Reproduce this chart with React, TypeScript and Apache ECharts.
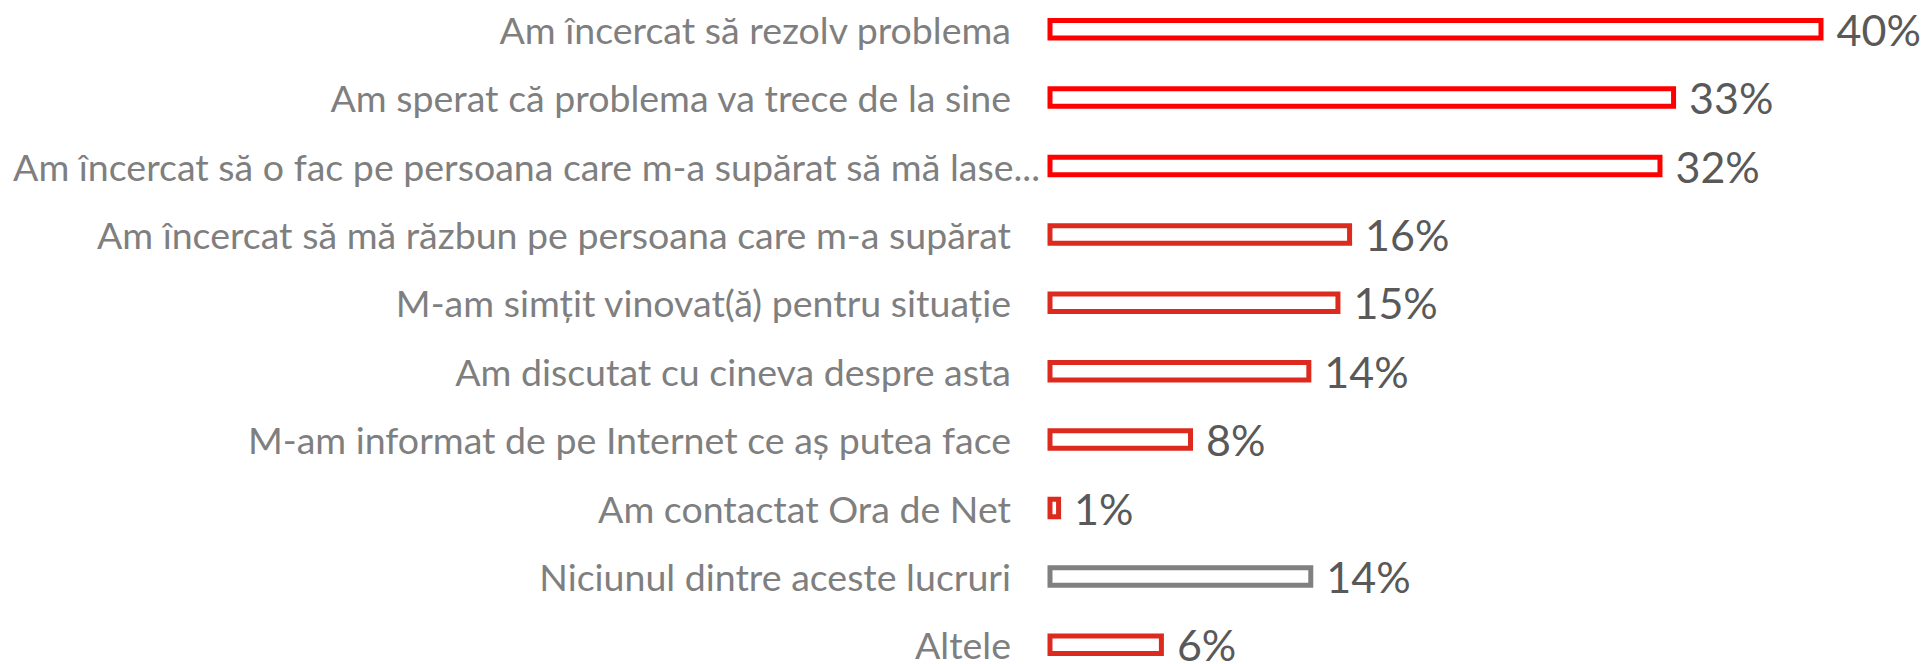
import React, { useEffect, useRef } from "react";
import * as echarts from "echarts";

const categories = [
  "Am încercat să rezolv problema",
  "Am sperat că problema va trece de la sine",
  "Am încercat să o fac pe persoana care m-a supărat să mă lase...",
  "Am încercat să mă răzbun pe persoana care m-a supărat",
  "M-am simțit vinovat(ă) pentru situație",
  "Am discutat cu cineva despre asta",
  "M-am informat de pe Internet ce aș putea face",
  "Am contactat Ora de Net",
  "Niciunul dintre aceste lucruri",
  "Altele",
];
const values = [40.0, 32.4, 31.7, 15.7, 15.1, 13.6, 7.5, 0.7, 13.7, 6.0];
const valueLabels = ["40%", "33%", "32%", "16%", "15%", "14%", "8%", "1%", "14%", "6%"];
const barColors = [
  "#FF0000", "#FF0000", "#FF0000", "#DC2A1F", "#DC2A1F",
  "#DC2A1F", "#DC2A1F", "#DC2A1F", "#808080", "#DC2A1F",
];
// the truncated label sits closer to its bar in the reference
const closeLabelIndex = 2;

export default function App() {
  const ref = useRef<HTMLDivElement>(null);
  useEffect(() => {
    if (!ref.current) return;
    const chart = echarts.init(ref.current, undefined, { renderer: "svg" });
    const labelStyle = {
      color: "#7F7F7F",
      fontFamily: "Lato",
      fontSize: 37.5,
    };
    chart.setOption({
      animation: false,
      backgroundColor: "#ffffff",
      grid: { left: 1047.5, right: 2.5, top: 0, bottom: 0, containLabel: false },
      xAxis: {
        type: "value",
        min: 0,
        max: 45,
        show: false,
      },
      yAxis: [
        {
          type: "category",
          inverse: true,
          data: categories,
          axisLine: { show: false },
          axisTick: { show: false },
          splitLine: { show: false },
          axisLabel: {
            ...labelStyle,
            margin: 36.5,
            formatter: (v: string, i: number) => (i === closeLabelIndex ? "" : v),
          },
        },
        {
          type: "category",
          position: "left",
          inverse: true,
          data: categories,
          axisLine: { show: false },
          axisTick: { show: false },
          splitLine: { show: false },
          axisLabel: {
            ...labelStyle,
            margin: 7.5,
            formatter: (v: string, i: number) => (i === closeLabelIndex ? v : ""),
          },
        },
      ],
      series: [
        {
          type: "bar",
          yAxisIndex: 0,
          barWidth: 22.5,
          data: values.map((v, i) => ({
            value: v,
            itemStyle: {
              color: "#ffffff",
              borderColor: barColors[i],
              borderWidth: 5,
            },
            label: {
              show: true,
              position: "right",
              distance: 13,
              formatter: valueLabels[i],
              color: "#595959",
              fontFamily: "Lato",
              fontSize: 43,
            },
          })),
        },
      ],
    });
    return () => chart.dispose();
  }, []);
  return (
    <div
      ref={ref}
      style={{ position: "fixed", left: 0, top: -5, width: 1923, height: 684, background: "#fff" }}
    />
  );
}
